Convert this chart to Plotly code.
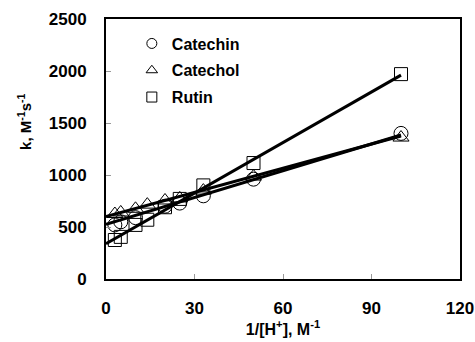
import numpy as np
import plotly.graph_objects as go

# Data
x_catechin = [3, 5, 10, 20, 25, 33, 50, 100]
y_catechin = [520, 550, 590, 700, 730, 800, 960, 1400]

x_catechol = [3, 5, 10, 14, 20, 25, 33, 50, 100]
y_catechol = [625, 640, 675, 715, 755, 775, 850, 985, 1360]

x_rutin = [3, 5, 10, 14, 20, 25, 33, 50, 100]
y_rutin = [375, 405, 520, 570, 690, 770, 900, 1115, 1970]

# Trend-line coefficients (intercept, slope)
fit_catechin = (525, 8.6)
fit_catechol = (600, 7.75)
fit_rutin = (340, 16.2)
fit_x = [0, 100]

series_names = ["Catechin", "Catechol", "Rutin"]
x_ticks = [0, 30, 60, 90, 120]
y_ticks = [0, 500, 1000, 1500, 2000, 2500]

FONT = "Arial, 'Liberation Sans', sans-serif"

fig = go.Figure()

def line_trace(coef):
    xs = np.array(fit_x, dtype=float)
    return go.Scatter(x=xs, y=coef[0] + coef[1] * xs, mode="lines",
                      line=dict(color="black", width=3), showlegend=False,
                      hoverinfo="skip")

fig.add_trace(line_trace(fit_catechin))
fig.add_trace(line_trace(fit_catechol))
fig.add_trace(line_trace(fit_rutin))

symbols = ["circle-open", "triangle-up-open", "square-open"]
sizes = [14, 14, 13]
legend_sizes = [10, 10, 10]
xs_all = [x_catechin, x_catechol, x_rutin]
ys_all = [y_catechin, y_catechol, y_rutin]

for name, sym, sz, xs, ys in zip(series_names, symbols, sizes, xs_all, ys_all):
    fig.add_trace(go.Scatter(x=xs, y=ys, mode="markers", name=name, showlegend=False,
                             legendgroup=name,
                             marker=dict(symbol=sym, size=sz, color="black",
                                         line=dict(width=1))))

# legend entries (smaller symbols, as in the reference legend)
for name, sym, lsz in zip(series_names, symbols, legend_sizes):
    fig.add_trace(go.Scatter(x=[None], y=[None], mode="markers", name=name,
                             legendgroup=name,
                             marker=dict(symbol=sym, size=lsz, color="black",
                                         line=dict(width=1))))

axis_common = dict(showgrid=False, zeroline=False, showline=True, mirror=True,
                   linecolor="black", linewidth=2, ticks="inside", ticklen=5,
                   tickcolor="#999999", tickwidth=1, automargin=False,
                   ticklabeloverflow="allow",
                   tickfont=dict(family=FONT, size=17, color="black", weight="bold"))

fig.update_xaxes(range=[0, 120], tickvals=x_ticks, ticklabelstandoff=13, **axis_common,
                 title=dict(text="1/[H<sup>+</sup>], M<sup>-1</sup>", standoff=1,
                            font=dict(family=FONT, size=16, color="black", weight="bold")))
fig.update_yaxes(range=[0, 2500], tickvals=y_ticks, ticklabelstandoff=14, **axis_common)

fig.add_annotation(text="k, M<sup>-1</sup>s<sup>-1</sup>", xref="paper", yref="paper",
                   x=-0.229, y=0.604, xanchor="center", yanchor="middle",
                   textangle=-90, showarrow=False,
                   font=dict(family=FONT, size=15, color="black", weight="bold"))

fig.update_layout(
    width=475, height=342,
    margin=dict(l=106, r=15, t=19, b=63),
    paper_bgcolor="white", plot_bgcolor="white",
    font=dict(family=FONT, size=14, color="black"),
    legend=dict(x=0.073, y=0.971, xanchor="left", yanchor="top",
                bgcolor="rgba(0,0,0,0)", itemwidth=30, tracegroupgap=3,
                traceorder="grouped",
                font=dict(family=FONT, size=16, color="black", weight="bold")),
)

fig.write_html("out.html")
